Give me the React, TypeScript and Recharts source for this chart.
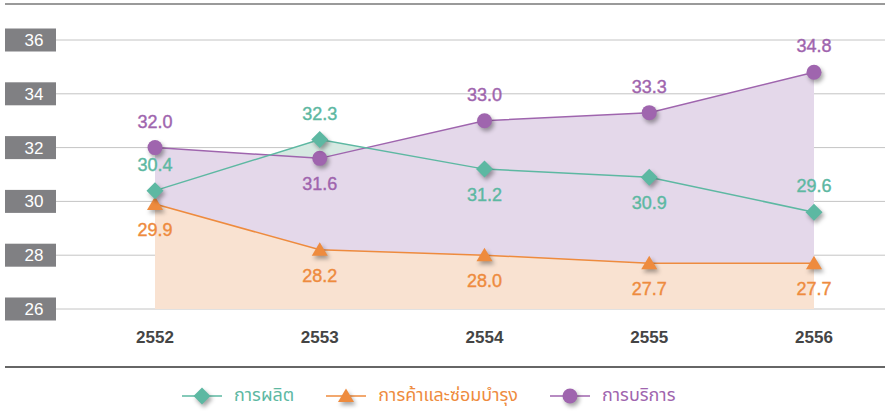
import React from 'react';
import { ComposedChart, Area, Line, XAxis, YAxis, CartesianGrid, LabelList } from 'recharts';

const years = ['2552', '2553', '2554', '2555', '2556'];
const manufacturing = [30.4, 32.3, 31.2, 30.9, 29.6];
const trade = [29.9, 28.2, 28.0, 27.7, 27.7];
const services = [32.0, 31.6, 33.0, 33.3, 34.8];
const yTicks = [26, 28, 30, 32, 34, 36];

const seriesNames = ['การผลิต', 'การค้าและซ่อมบำรุง', 'การบริการ'];

// label above or below each point
const manufacturingSide = ['top', 'top', 'bottom', 'bottom', 'top'];
const tradeSide = ['bottom', 'bottom', 'bottom', 'bottom', 'bottom'];
const servicesSide = ['top', 'bottom', 'top', 'top', 'top'];

const GREEN = '#5db8a2';
const ORANGE = '#ee8b3e';
const PURPLE = '#9f65ae';

const data = years.map((year, i) => ({
  year,
  manufacturing: manufacturing[i],
  trade: trade[i],
  services: services[i],
}));

const FONT = "'Liberation Sans', Arial, Helvetica, sans-serif";
const shadow = 'drop-shadow(2px 3px 2px rgba(0,0,0,0.35))';

type Shape = 'diamond' | 'triangle' | 'circle';

const Marker = ({ cx, cy, shape, color }: { cx: number; cy: number; shape: Shape; color: string }) => {
  if (shape === 'diamond') {
    const s = 8.5;
    return (
      <path
        d={`M${cx},${cy - s}L${cx + s},${cy}L${cx},${cy + s}L${cx - s},${cy}Z`}
        fill={color}
        style={{ filter: shadow }}
      />
    );
  }
  if (shape === 'triangle') {
    return (
      <path
        d={`M${cx},${cy - 7.5}L${cx + 8},${cy + 6}L${cx - 8},${cy + 6}Z`}
        fill={color}
        style={{ filter: shadow }}
      />
    );
  }
  return <circle cx={cx} cy={cy} r={7.5} fill={color} style={{ filter: shadow }} />;
};

const makeDot = (shape: Shape, color: string) => (props: any) => (
  <Marker key={`${shape}-${props.index}`} cx={props.cx} cy={props.cy} shape={shape} color={color} />
);

const makeLabel = (sides: string[], color: string) => (props: any) => {
  const { x, y, value, index } = props;
  const dy = sides[index] === 'top' ? -20 : 32;
  return (
    <text
      key={`lbl-${index}`}
      x={x}
      y={y + dy}
      textAnchor="middle"
      fill={color}
      stroke={color}
      strokeWidth={0.4}
      fontSize={18}
      fontFamily={FONT}
    >
      {Number(value).toFixed(1)}
    </text>
  );
};

const YTick = (props: any) => {
  const { y, payload } = props;
  return (
    <g>
      <rect x={5} y={y - 11.5} width={51} height={23} fill="#808083" />
      <text x={34} y={y + 6} textAnchor="middle" fill="#ffffff" fontSize={17} fontFamily={FONT}>
        {payload.value}
      </text>
    </g>
  );
};

const XTick = (props: any) => {
  const { x, y, payload } = props;
  return (
    <text x={x} y={y + 26} textAnchor="middle" fill="#444444" fontSize={17} fontWeight="bold" fontFamily={FONT}>
      {payload.value}
    </text>
  );
};

const LegendIcon = ({ shape, color }: { shape: Shape; color: string }) => (
  <svg width={40} height={24} style={{ overflow: 'visible' }}>
    <line x1={0} y1={12} x2={40} y2={12} stroke={color} strokeWidth={1.5} />
    <Marker cx={20} cy={12} shape={shape} color={color} />
  </svg>
);

const legendItems: { shape: Shape; color: string }[] = [
  { shape: 'diamond', color: GREEN },
  { shape: 'triangle', color: ORANGE },
  { shape: 'circle', color: PURPLE },
];

export default function App() {
  return (
    <div style={{ position: 'absolute', left: 0, top: 0, width: 885, height: 414, background: '#fff' }}>
      <div style={{ position: 'absolute', left: 5, top: 3, width: 880, height: 2, background: '#9a9a9a' }} />
      <ComposedChart
        width={885}
        height={414}
        data={data}
        margin={{ top: 40, right: 0, bottom: 75, left: 0 }}
      >
        <CartesianGrid vertical={false} stroke="#c4c4c4" strokeWidth={1} />
        <XAxis
          dataKey="year"
          scale="point"
          height={30}
          padding={{ left: 99, right: 71 }}
          axisLine={false}
          tickLine={false}
          tick={<XTick />}
          interval={0}
        />
        <YAxis
          width={56}
          domain={[26, 36]}
          ticks={yTicks}
          axisLine={false}
          tickLine={false}
          tick={<YTick />}
          interval={0}
        />
        <Area dataKey="manufacturing" stroke="none" fill="#d6e9e2" fillOpacity={1} isAnimationActive={false} dot={false} activeDot={false} />
        <Area dataKey="services" stroke="none" fill="#e4d8ea" fillOpacity={1} isAnimationActive={false} dot={false} activeDot={false} />
        <Area dataKey="trade" stroke="none" fill="#f9e2d1" fillOpacity={1} isAnimationActive={false} dot={false} activeDot={false} />
        <Line dataKey="trade" stroke={ORANGE} strokeWidth={1.5} dot={makeDot('triangle', ORANGE)} activeDot={false} isAnimationActive={false}>
          <LabelList dataKey="trade" content={makeLabel(tradeSide, ORANGE)} />
        </Line>
        <Line dataKey="services" stroke={PURPLE} strokeWidth={1.5} dot={makeDot('circle', PURPLE)} activeDot={false} isAnimationActive={false}>
          <LabelList dataKey="services" content={makeLabel(servicesSide, PURPLE)} />
        </Line>
        <Line dataKey="manufacturing" stroke={GREEN} strokeWidth={1.5} dot={makeDot('diamond', GREEN)} activeDot={false} isAnimationActive={false}>
          <LabelList dataKey="manufacturing" content={makeLabel(manufacturingSide, GREEN)} />
        </Line>
      </ComposedChart>
      <div style={{ position: 'absolute', left: 5, top: 366, width: 880, height: 2, background: '#666666' }} />
      <div
        style={{
          position: 'absolute',
          left: 182,
          top: 382,
          display: 'flex',
          alignItems: 'center',
          fontFamily: "'Noto Sans Thai', 'Noto Sans', sans-serif",
          fontSize: 18,
        }}
      >
        {seriesNames.map((name, i) => (
          <div key={name} style={{ display: 'flex', alignItems: 'center', marginRight: 32 }}>
            <LegendIcon shape={legendItems[i].shape} color={legendItems[i].color} />
            <span style={{ marginLeft: 12, color: legendItems[i].color }}>{name}</span>
          </div>
        ))}
      </div>
    </div>
  );
}
